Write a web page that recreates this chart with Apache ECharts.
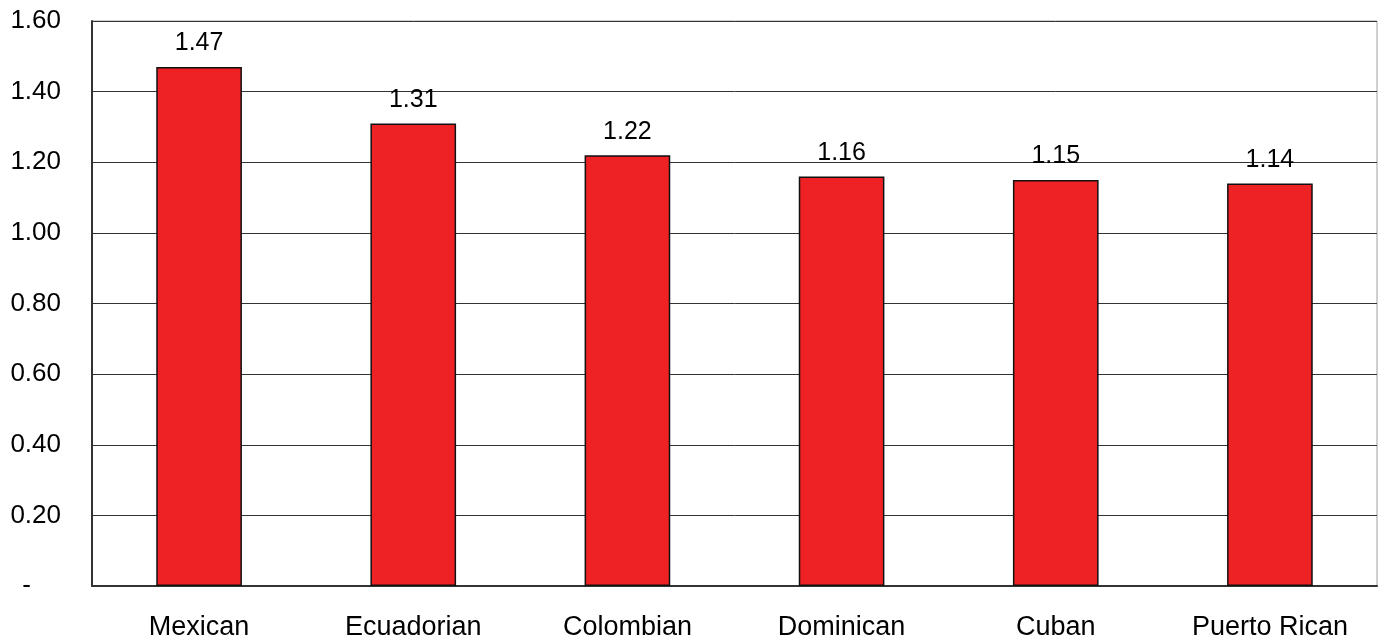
<!DOCTYPE html>
<html>
<head>
<meta charset="utf-8">
<script src="https://cdn.jsdelivr.net/npm/echarts@6/dist/echarts.min.js"></script>
<style>html,body{margin:0;padding:0;background:#fff;}#c{width:1378px;height:641px;}</style>
</head>
<body>
<div id="c"></div>
<script>
const categories = ['Mexican', 'Ecuadorian', 'Colombian', 'Dominican', 'Cuban', 'Puerto Rican'];
const values = [1.47, 1.31, 1.22, 1.16, 1.15, 1.14];
const yTicks = [0, 0.2, 0.4, 0.6, 0.8, 1.0, 1.2, 1.4, 1.6];

const chart = echarts.init(document.getElementById('c'), null, {renderer: 'canvas'});
const FONT = '"Liberation Sans", Arial, sans-serif';
chart.setOption({
  animation: false,
  grid: {left: 92, right: 1, top: 21, bottom: 54, show: true, borderColor: '#a0a0a0', borderWidth: 1, containLabel: false},
  xAxis: {
    type: 'category',
    data: categories,
    axisLine: {show: true, lineStyle: {color: '#333', width: 2}},
    axisTick: {show: false},
    axisLabel: {fontFamily: FONT, fontSize: 27, color: '#000', margin: 28, interval: 0}
  },
  yAxis: {
    type: 'value',
    min: yTicks[0], max: yTicks[yTicks.length - 1], interval: 0.2,
    axisLine: {show: true, lineStyle: {color: '#333', width: 2}},
    axisTick: {show: false},
    splitLine: {show: true, lineStyle: {color: '#333', width: 1}},
    axisLabel: {
      fontFamily: FONT, fontSize: 26, color: '#000', margin: 31,
      formatter: v => Math.abs(v) < 1e-9 ? '{z|-}' : v.toFixed(2),
      rich: {z: {fontFamily: FONT, fontSize: 26, color: '#000', padding: [0, 30, 0, 0]}}
    }
  },
  series: [{
    type: 'bar',
    data: values,
    barWidth: '40%',
    itemStyle: {color: '#EE2224', borderColor: '#111', borderWidth: 1.5},
    label: {
      show: true, position: 'top', distance: 11,
      fontFamily: FONT, fontSize: 25, color: '#000',
      formatter: p => p.value.toFixed(2)
    },
    z: 1
  }]
});
</script>
</body>
</html>
